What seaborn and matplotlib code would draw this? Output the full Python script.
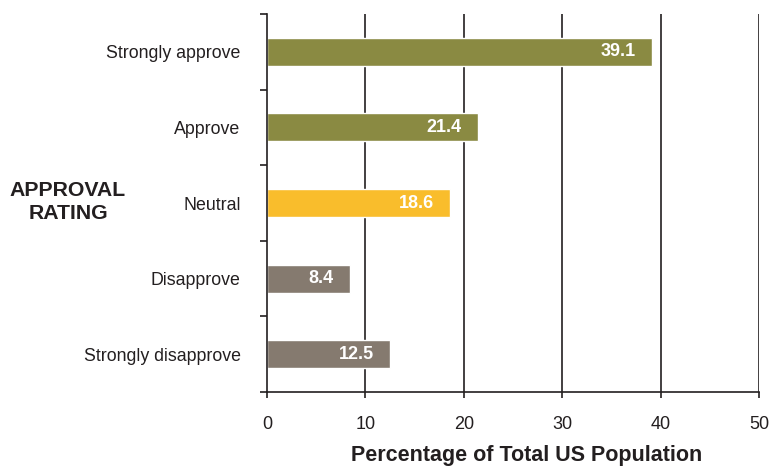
import matplotlib
matplotlib.use("Agg")
import matplotlib.pyplot as plt
import seaborn as sns
import pandas as pd
import numpy as np

categories = ["Strongly approve", "Approve", "Neutral", "Disapprove", "Strongly disapprove"]
values = [39.1, 21.4, 18.6, 8.4, 12.5]
colors = ["#8a8a42", "#8a8a42", "#f9bd2c", "#857a6f", "#857a6f"]
xticks = [0, 10, 20, 30, 40, 50]

sns.set_theme(style="white")
plt.rcParams['font.family'] = ['Liberation Sans', 'DejaVu Sans']

df = pd.DataFrame({"cat": categories, "val": values})

fig = plt.figure(figsize=(7.73, 4.67), dpi=100)
ax = fig.add_axes([267/773, 1-392/467, (759-267)/773, (392-14)/467])

sns.barplot(data=df, y="cat", x="val", hue="cat", palette=colors, order=categories,
            hue_order=categories, orient="h", width=0.37, dodge=False, legend=False,
            saturation=1, ax=ax)

ax.set_xlim(0, 50)
ax.set_ylim(4.5, -0.5)
ax.set_xticks(xticks)
ax.set_xticklabels([str(t) for t in xticks], fontsize=13, color="#231f20")
for t in xticks[1:]:
    ax.axvline(t, color="#231f20", lw=1.2, zorder=0)

ax.set_yticks(range(len(categories)))
ax.set_yticklabels(categories, fontsize=12.8, color="#231f20")
ax.set_yticks(np.arange(-0.5, 5, 1), minor=True)
ax.tick_params(axis="y", which="major", length=0, pad=19)
ax.tick_params(axis="y", which="minor", length=5, width=1.2, color="#231f20", direction="out", left=True)
ax.tick_params(axis="x", which="major", length=4, width=1.2, color="#231f20", direction="out", bottom=True, pad=13)

for s in ["top", "right"]:
    ax.spines[s].set_visible(False)
for s in ["left", "bottom"]:
    ax.spines[s].set_color("#231f20")
    ax.spines[s].set_linewidth(1.2)

for i, v in enumerate(values):
    ax.annotate(f"{v}", xy=(v, i), xytext=(-16, 0), textcoords="offset pixels",
                ha="right", va="center", color="white", fontsize=13, fontweight="bold")

ax.set_ylabel("")
ax.set_xlabel("")
fig.text(527/773, 1-456/467, "Percentage of Total US Population", ha="center", va="center",
         fontsize=15.5, fontweight="bold", color="#231f20")
fig.text(68/773, 1-202/467, "APPROVAL\nRATING", ha="center", va="center",
         fontsize=15.3, fontweight="bold", color="#231f20", linespacing=1.25)

fig.savefig("out.png", dpi=100)
